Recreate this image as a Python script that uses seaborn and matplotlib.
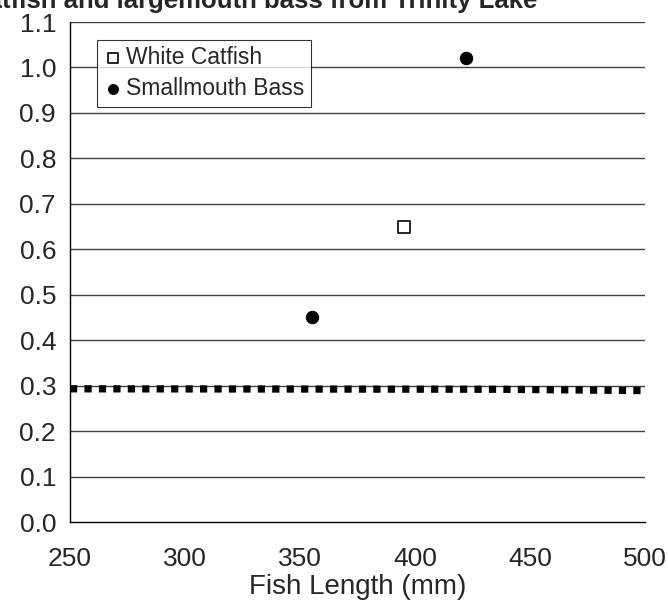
import pandas as pd
import seaborn as sns
import matplotlib.pyplot as plt

# Data
catfish_length = [395]
catfish_hg = [0.65]
bass_length = [355, 422]
bass_hg = [0.45, 1.02]
limit_length = [250, 438, 500]
limit_hg = [0.293, 0.292, 0.289]

y_ticks = [0.0, 0.1, 0.2, 0.3, 0.4, 0.5, 0.6, 0.7, 0.8, 0.9, 1.0, 1.1]
x_ticks = [250, 300, 350, 400, 450, 500]

sns.set_style("white")
plt.rcParams["font.family"] = ["Liberation Sans", "DejaVu Sans"]

catfish = pd.DataFrame({"length": catfish_length, "hg": catfish_hg})
bass = pd.DataFrame({"length": bass_length, "hg": bass_hg})
limit = pd.DataFrame({"length": limit_length, "hg": limit_hg})

fig = plt.figure(figsize=(6.68, 6.14), dpi=100)
ax = fig.add_axes([70 / 668, 1 - 522 / 614, 575 / 668, 500 / 614])

for y in y_ticks[1:]:
    ax.axhline(y, color="#404040", lw=1, zorder=0)

sns.lineplot(data=limit, x="length", y="hg", ax=ax, color="black", lw=5.2,
             zorder=2)
ax.lines[-1].set_dashes((1, 1))
ax.lines[-1].set_solid_capstyle("butt")

sns.scatterplot(data=catfish, x="length", y="hg", ax=ax, marker="s", s=75,
                facecolor="white", edgecolor="black", linewidth=1.2,
                label="White Catfish", zorder=3)
sns.scatterplot(data=bass, x="length", y="hg", ax=ax, marker="o", s=80,
                color="black", edgecolor="black",
                label="Smallmouth Bass", zorder=3)

ax.set_xlim(250, 500)
ax.set_ylim(0, 1.1)
ax.set_xticks(x_ticks)
ax.set_yticks(y_ticks)
ax.set_yticklabels([f"{v:.1f}" for v in y_ticks])
ax.tick_params(axis="both", direction="out", length=6, width=1,
               labelsize=19, color="black", pad=4)
ax.tick_params(axis="x", pad=12)
for side in ["top", "right"]:
    ax.spines[side].set_visible(False)
for side in ["left", "bottom"]:
    ax.spines[side].set_color("black")
    ax.spines[side].set_linewidth(1)

ax.set_xlabel("Fish Length (mm)", fontsize=20, labelpad=2)
ax.set_ylabel("")

leg = ax.legend(loc="upper left", bbox_to_anchor=(0.047, 0.965), fontsize=16.5,
                frameon=True, fancybox=False, handletextpad=0.15,
                handlelength=0.8, borderpad=0.3, labelspacing=0.35,
                borderaxespad=0, markerscale=0.8)
leg.get_frame().set_edgecolor("black")
leg.get_frame().set_linewidth(0.8)

fig.text(537 / 668, 1 - 8 / 614,
         "Mercury in white catfish and largemouth bass from Trinity Lake",
         ha="right", va="baseline", fontsize=18.5, fontweight="bold")

plt.savefig("out.png", dpi=100)
